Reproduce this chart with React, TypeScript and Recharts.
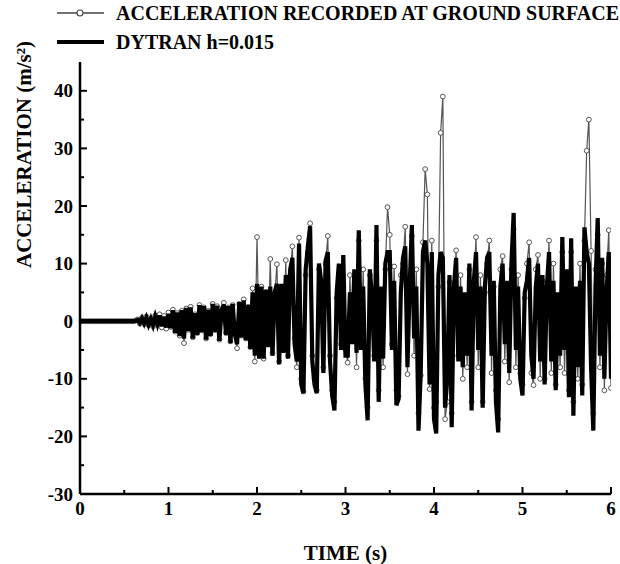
import React from "react";
import { LineChart, Line, XAxis, YAxis, CartesianGrid, Legend } from "recharts";

// sampling interval of both records (s)
const DT = 0.025;

// Acceleration recorded at ground surface (m/s^2), one value per DT from 0 s to 6 s
const recorded0to1 = [
  0, 0, 0, 0, 0, 0, 0, 0, 0, 0, 0, 0, 0, 0, 0, 0, 0, 0, 0, 0,
  0, 0, 0, 0, 0, 0.1, 0.3, -0.4, 0.6, -0.5, 0.8, -0.7, 0.5, -0.9, 1.0, -0.6, 1.2, -1.1, 0.9, -1.3,
];
const recorded1to2 = [
  1.5, -1.0, 2.0, -1.8, 1.4, -2.5, 1.8, -3.8, 2.2, -1.5, 2.5, -2.8, 1.2, -2.0, 2.8, -1.6, 2.4, -3.0, 1.8, -2.2,
  3.0, -1.5, 2.6, -3.2, 1.6, 3.2, -2.0, 2.4, -3.5, 2.8, -2.0, -4.7, 3.0, -2.5, 3.8, -3.0, 2.5, -4.5, 5.7, -7.0,
];
const recorded2to3 = [
  14.6, -5.0, 6.0, -6.5, 5.0, -4.0, 10.8, -5.5, 4.5, 9.9, -7.0, 6.0, -5.0, 10.6, -6.0, 8.0, 13.0, -3.0, -8.0, 14.5,
  -10.0, -12.2, 8.0, 12.0, 17.0, -6.0, -10.0, -12.0, 9.0, 6.0, -8.0, 10.0, 14.8, -6.0, -12.0, -14.0, 4.0, 8.0, -4.0, 6.0,
];
const recorded3to4 = [
  -5.0, -7.2, 8.0, -3.0, 8.0, -8.0, 14.0, -4.0, 9.0, -10.0, -15.0, 8.0, 3.0, -6.0, 14.0, -12.0, 5.0, -8.0, 9.0, 19.8,
  15.0, -4.0, 9.5, -12.0, -13.0, 8.0, 10.0, 16.4, -9.2, 5.0, 14.8, -6.0, 9.0, -16.0, -9.4, 13.7, 26.4, 22.0, -11.8, 14.0,
];
const recorded4to5 = [
  -15.0, -14.0, 6.0, 32.7, 39.0, -17.0, -14.0, 6.8, -16.0, 5.0, 12.3, -6.0, 8.0, -10.0, 4.0, -8.0, 9.0, -14.0, 6.0, 14.6,
  -8.0, 8.0, -14.0, 5.0, 10.0, 14.0, -9.0, 6.0, -12.0, -17.0, 9.0, 11.3, -7.0, 6.0, -10.6, 9.0, 16.0, -8.0, 8.0, -9.0,
];
const recorded5to6 = [
  -11.0, 4.0, 10.0, 13.7, -9.0, -11.1, 9.0, 11.5, -10.0, 7.0, -10.0, 5.0, 14.0, -9.0, 10.0, -11.0, 4.0, -8.0, 12.0, -9.0,
  8.0, -12.0, 12.0, -14.0, 5.0, -10.0, 10.0, -11.0, 14.0, 29.6, 35.0, 12.2, -16.0, 9.0, 15.0, -8.0, 10.0, -12.0, 8.0, 15.8,
  -11.6,
];

// DYTRAN h=0.015 computed acceleration (m/s^2)
const dytran0to1 = [
  0, 0, 0, 0, 0, 0, 0, 0, 0, 0, 0, 0, 0, 0, 0, 0, 0, 0, 0, 0,
  0, 0, 0, 0, 0, 0, 0.2, -0.3, 0.5, -0.4, 0.6, -0.6, 0.4, -0.7, 0.8, -0.5, 1.0, -0.9, 0.8, -1.1,
];
const dytran1to2 = [
  1.3, -1.2, 1.9, -2.0, 1.5, -2.6, 1.9, -3.0, 2.3, -1.7, 2.4, -3.0, 1.4, -2.4, 2.8, -1.9, 2.6, -3.2, 2.0, -2.6,
  3.0, -1.9, 2.7, -3.4, 2.0, 2.9, -2.4, 2.6, -3.8, 3.0, -2.3, -4.0, 3.3, -2.8, 3.6, -3.3, 2.8, -4.8, 5.0, -6.0,
];
const dytran2to3 = [
  6.5, -6.5, 6.0, -6.5, 5.5, -4.5, 6.0, -6.0, 5.0, 6.5, -7.5, 6.5, -5.5, 8.0, -6.5, 9.0, 11.0, -4.0, -7.0, 13.5,
  -11.0, -12.5, 9.0, 13.0, 16.5, -7.0, -11.0, -12.5, 10.0, 7.0, -9.0, 10.5, 12.0, -7.0, -13.0, -15.5, 5.0, 10.0, -5.0, 11.5,
];
const dytran3to4 = [
  -6.0, -6.0, 5.0, -4.0, 9.0, -5.5, 15.8, -5.0, 6.0, -11.0, -17.2, 9.0, 4.0, -7.0, 16.7, -14.0, 6.0, -6.5, 10.0, 12.0,
  12.0, -5.0, 7.0, -14.6, -13.5, 5.0, 11.0, 13.0, -8.0, 6.0, 16.7, -3.0, 6.0, -19.0, -9.0, 12.0, 14.0, 10.0, -11.0, 12.0,
];
const dytran4to5 = [
  -17.0, -19.5, 8.0, 12.0, 11.0, -15.0, -10.0, 8.0, -18.4, 6.0, 11.0, -7.0, 6.0, -8.0, 5.0, -6.0, 10.0, -15.5, 7.0, 12.0,
  -5.0, 6.0, -15.0, 6.0, 11.0, 12.0, -6.0, 7.0, -14.0, -19.3, 6.0, 10.0, -4.0, 7.0, -9.0, 10.0, 18.8, -5.0, 6.0, -10.0,
];
const dytran5to6 = [
  -12.9, 5.0, 7.0, 11.0, -6.0, -10.0, 6.0, 10.0, -7.0, 8.0, -11.0, 6.0, 12.0, -7.0, 7.0, -12.0, 5.0, -6.0, 14.6, -5.0,
  9.0, -13.2, 14.4, -16.4, 6.0, -8.0, 7.0, -12.9, 16.3, 12.0, 10.0, -8.0, -19.0, 6.0, 17.9, -6.0, 11.0, -10.0, 5.0, 12.0,
  -10.0,
];

const recordedValues = [
  ...recorded0to1, ...recorded1to2, ...recorded2to3, ...recorded3to4, ...recorded4to5, ...recorded5to6,
];
const dytranValues = [
  ...dytran0to1, ...dytran1to2, ...dytran2to3, ...dytran3to4, ...dytran4to5, ...dytran5to6,
];

const xTicks = [0, 0.5, 1, 1.5, 2, 2.5, 3, 3.5, 4, 4.5, 5, 5.5, 6];
const yTicks = [-30, -25, -20, -15, -10, -5, 0, 5, 10, 15, 20, 25, 30, 35, 40];
const gridValues = [-20, -10, 10, 20, 30, 40];

const SERIES_RECORDED = "ACCELERATION RECORDED AT GROUND SURFACE";
const SERIES_DYTRAN = "DYTRAN h=0.015";

const recordedData = recordedValues.map((v, i) => ({ t: +(i * DT).toFixed(3), a: v }));
const dytranData = dytranValues.map((v, i) => ({ t: +(i * DT).toFixed(3), a: v }));

const FONT = '"Liberation Serif", "Times New Roman", serif';
const LEGEND_H = 58;

const YTick = (props: any) => {
  const { x, y, payload } = props;
  const v = payload.value;
  const major = v % 10 === 0;
  return (
    <g>
      <line x1={x} y1={y} x2={x + (major ? 7 : 4)} y2={y} stroke="#000" strokeWidth={2} />
      {major && (
        <text x={x - 7} y={y} textAnchor="end" dominantBaseline="central" fontFamily={FONT} fontWeight="bold" fontSize={19} fill="#000">
          {v}
        </text>
      )}
    </g>
  );
};

const XTick = (props: any) => {
  const { x, y, payload } = props;
  const v = payload.value;
  const major = Number.isInteger(v);
  return (
    <g>
      <line x1={x} y1={y} x2={x} y2={y - (major ? 7 : 4)} stroke="#000" strokeWidth={2} />
      {major && (
        <text x={x} y={y + 21} textAnchor="middle" fontFamily={FONT} fontWeight="bold" fontSize={19} fill="#000">
          {v}
        </text>
      )}
    </g>
  );
};

const LegendContent = () => (
  <svg width={620} height={LEGEND_H} style={{ display: "block" }}>
    <line x1={57} y1={13} x2={104} y2={13} stroke="#444" strokeWidth={1.3} />
    <circle cx={80} cy={13} r={3} fill="#fff" stroke="#444" strokeWidth={1.1} />
    <text x={116} y={13} dominantBaseline="central" fontFamily={FONT} fontWeight="bold" fontSize={20} fill="#000">
      {SERIES_RECORDED}
    </text>
    <line x1={57} y1={42} x2={104} y2={42} stroke="#000" strokeWidth={4} />
    <text x={116} y={42} dominantBaseline="central" fontFamily={FONT} fontWeight="bold" fontSize={20} fill="#000">
      {SERIES_DYTRAN}
    </text>
  </svg>
);

export default function App() {
  return (
    <div style={{ position: "absolute", left: 0, top: 0, width: 620, height: 564, background: "#fff" }}>
      <LineChart width={620} height={564} margin={{ top: 62 - LEGEND_H, right: 9, left: 0, bottom: 0 }}>
        <CartesianGrid vertical={false} horizontalValues={gridValues} stroke="#888" strokeWidth={1} />
        <XAxis
          xAxisId="bottom"
          dataKey="t"
          type="number"
          domain={[0, 6]}
          ticks={xTicks}
          interval={0}
          height={70}
          tickSize={0}
          tickMargin={0}
          tickLine={false}
          tick={<XTick />}
          axisLine={{ stroke: "#000", strokeWidth: 2.5 }}
          allowDataOverflow
          zIndex={2000}
          label={{ value: "TIME (s)", position: "insideBottom", offset: 4, fontFamily: FONT, fontWeight: "bold", fontSize: 21, fill: "#000" }}
        />
        <XAxis
          xAxisId="top"
          orientation="top"
          dataKey="t"
          type="number"
          domain={[0, 6]}
          height={0}
          tick={false}
          tickLine={false}
          zIndex={2000}
          axisLine={{ stroke: "#000", strokeWidth: 2.5 }}
        />
        <YAxis
          yAxisId="left"
          type="number"
          domain={[-30, 45]}
          ticks={yTicks}
          interval={0}
          width={80}
          tickSize={0}
          tickMargin={0}
          tickLine={false}
          tick={<YTick />}
          axisLine={{ stroke: "#000", strokeWidth: 2.5 }}
          allowDataOverflow
          zIndex={2000}
          label={{ value: "ACCELERATION (m/s²)", angle: -90, position: "insideLeft", offset: 24, dy: -10, fontFamily: FONT, fontWeight: "bold", fontSize: 21, fill: "#000" }}
        />
        <YAxis
          yAxisId="right"
          orientation="right"
          type="number"
          domain={[-30, 45]}
          width={0}
          tick={false}
          tickLine={false}
          zIndex={2000}
          axisLine={{ stroke: "#000", strokeWidth: 2.5 }}
        />
        <Legend verticalAlign="top" align="left" height={LEGEND_H} content={<LegendContent />} wrapperStyle={{ position: "absolute", top: 0, left: 0 }} />
        <Line
          name={SERIES_RECORDED}
          data={recordedData}
          xAxisId="bottom"
          yAxisId="left"
          dataKey="a"
          type="linear"
          stroke="#555"
          strokeWidth={1.2}
          dot={{ r: 2.4, fill: "#fff", stroke: "#555", strokeWidth: 1 }}
          isAnimationActive={false}
        />
        <Line
          name={SERIES_DYTRAN}
          data={dytranData}
          xAxisId="bottom"
          yAxisId="left"
          dataKey="a"
          type="linear"
          stroke="#000"
          strokeWidth={4.2}
          dot={false}
          zIndex={1500}
          isAnimationActive={false}
        />
      </LineChart>
    </div>
  );
}
